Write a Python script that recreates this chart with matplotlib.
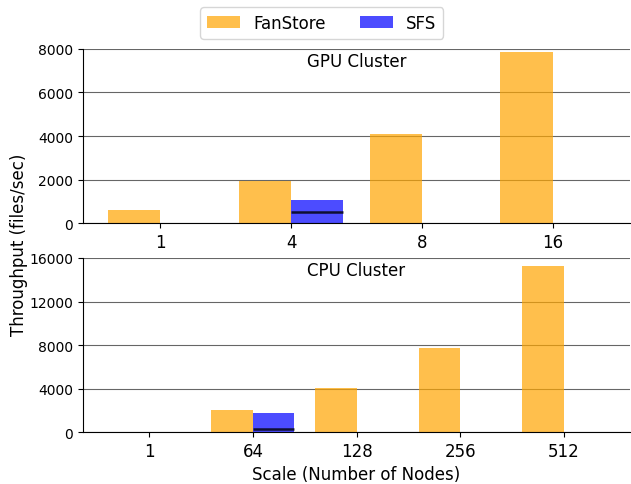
import numpy as np
import matplotlib.pyplot as plt

gpu_nodes = ['1', '4', '8', '16']
gpu_fanstore = [585, 1930, 4080, 7880]
gpu_sfs = [0, 1070, 0, 0]
gpu_sfs_mark = [None, 530, None, None]

cpu_nodes = ['1', '64', '128', '256', '512']
cpu_fanstore = [0, 2000, 4020, 7720, 15250]
cpu_sfs = [0, 1720, 0, 0, 0]
cpu_sfs_mark = [None, 260, None, None, None]

width = 0.4

fig = plt.figure(figsize=(6.31, 4.85), dpi=100)
ax1 = fig.add_axes([0.1315, 0.538, 0.867, 0.359])
ax2 = fig.add_axes([0.1315, 0.107, 0.867, 0.359])


def draw(ax, nodes, fan, sfs, mark, yticks, title):
    x = np.arange(len(nodes))
    ax.bar(x, fan, -width, align='edge', color='orange', alpha=0.7, label='FanStore')
    ax.bar(x, sfs, width, align='edge', color='blue', alpha=0.7, label='SFS')
    for xi, m in zip(x, mark):
        if m is not None:
            ax.hlines(m, xi, xi + width, color='black', linewidth=1.8, alpha=0.8)
    ax.set_xticks(x)
    ax.set_xticklabels(nodes, fontsize=12)
    ax.set_yticks(yticks)
    ax.set_ylim(0, yticks[-1])
    ax.tick_params(axis='y', labelsize=10)
    ax.grid(axis='y', color='black', alpha=0.6)
    ax.set_axisbelow(True)
    for s in ['top', 'right']:
        ax.spines[s].set_visible(False)
    ax.text(0.5, 0.93, title, transform=ax.transAxes, ha='center', va='center', fontsize=12)


draw(ax1, gpu_nodes, gpu_fanstore, gpu_sfs, gpu_sfs_mark, [0, 2000, 4000, 6000, 8000], 'GPU Cluster')
draw(ax2, cpu_nodes, cpu_fanstore, cpu_sfs, cpu_sfs_mark, [0, 4000, 8000, 12000, 16000], 'CPU Cluster')

ax2.set_xlabel('Scale (Number of Nodes)', fontsize=12)
fig.text(0.03, 0.495, 'Throughput (files/sec)', rotation=90, ha='center', va='center', fontsize=12)

handles, labels = ax1.get_legend_handles_labels()
fig.legend(handles, labels, loc='upper center', bbox_to_anchor=(0.51, 1.0), ncol=2, fontsize=12)

plt.savefig('out.png', dpi=100)
